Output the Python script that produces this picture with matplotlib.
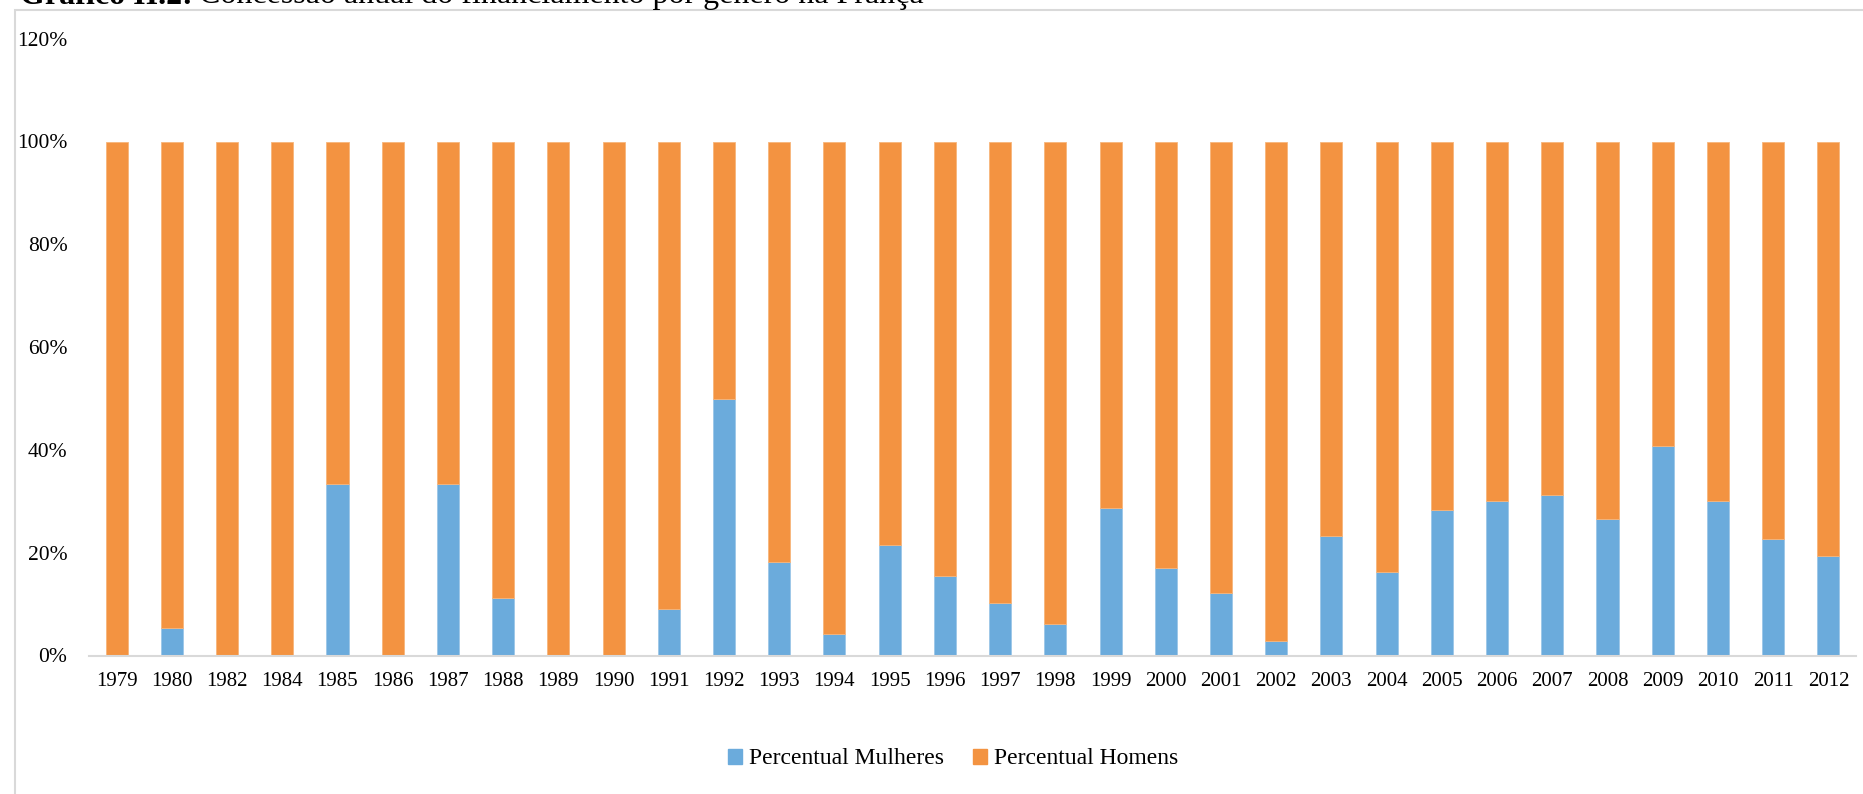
import matplotlib
matplotlib.use('Agg')
import matplotlib.pyplot as plt
from matplotlib.patches import Patch, Rectangle

plt.rcParams['font.family'] = ['Liberation Serif', 'DejaVu Serif']

years = ['1979', '1980', '1982', '1984', '1985', '1986', '1987', '1988', '1989', '1990',
         '1991', '1992', '1993', '1994', '1995', '1996', '1997', '1998', '1999', '2000',
         '2001', '2002', '2003', '2004', '2005', '2006', '2007', '2008', '2009', '2010',
         '2011', '2012']
mulheres = [0, 5.3, 0, 0, 33.3, 0, 33.3, 11.1, 0, 0,
            9.1, 50.0, 18.2, 4.2, 21.5, 15.4, 10.2, 6.1, 28.6, 17.1,
            12.1, 2.8, 23.3, 16.2, 28.3, 30.1, 31.2, 26.5, 40.7, 30.1,
            22.6, 19.4]
homens = [100 - m for m in mulheres]

blue = '#6babdc'
orange = '#f39341'

W, H = 1863, 794
fig = plt.figure(figsize=(W / 100, H / 100), dpi=100)
ax = fig.add_axes([89 / W, 1 - 655.5 / H, (1856 - 89) / W, (655.5 - 38.7) / H])

x = range(len(years))
ax.bar(x, mulheres, width=0.40, color=blue, edgecolor='#9cc6e8', linewidth=0.6)
ax.bar(x, homens, width=0.40, bottom=mulheres, color=orange, edgecolor='#f7b57a', linewidth=0.6)

ax.set_xlim(-0.5, len(years) - 0.5)
ax.set_ylim(0, 120)
ax.set_yticks(range(0, 121, 20))
ax.set_yticklabels(['%d%%' % v for v in range(0, 121, 20)], fontsize=15.5)
ax.set_xticks(list(x))
ax.set_xticklabels(years, fontsize=15)
ax.tick_params(axis='both', length=0)
ax.tick_params(axis='x', pad=12)
ax.tick_params(axis='y', pad=15.5)
for s in ['top', 'right', 'left']:
    ax.spines[s].set_visible(False)
ax.spines['bottom'].set_color('#d9d9d9')
ax.spines['bottom'].set_linewidth(1.5)

# chart border (cut off at the right and bottom)
fig.patches.append(Rectangle((14.7 / W, -0.05), 1.1, 1 - 10 / H + 0.05,
                             transform=fig.transFigure, fill=False,
                             edgecolor='#d9d9d9', linewidth=1.5))

handles = [Patch(color=blue, label='Percentual Mulheres'),
           Patch(color=orange, label='Percentual Homens')]
fig.legend(handles=handles, loc='center', bbox_to_anchor=(953 / W, 1 - 759 / H),
           ncol=2, frameon=False, fontsize=17, handlelength=0.6, handleheight=0.6,
           handletextpad=0.3, columnspacing=1.2)

# title, mostly cut off at the top of the image (as in the reference)
t1 = fig.text(20 / W, 1 - 3.5 / H, 'Gráfico II.2:', fontsize=23, fontweight='bold',
              va='baseline')
fig.canvas.draw()
bb = t1.get_window_extent()
fig.text(bb.x1 / W + 6 / W, 1 - 3.5 / H,
         'Concessão anual do financiamento por gênero na França',
         fontsize=23, va='baseline')

fig.savefig('out.png', dpi=100)
